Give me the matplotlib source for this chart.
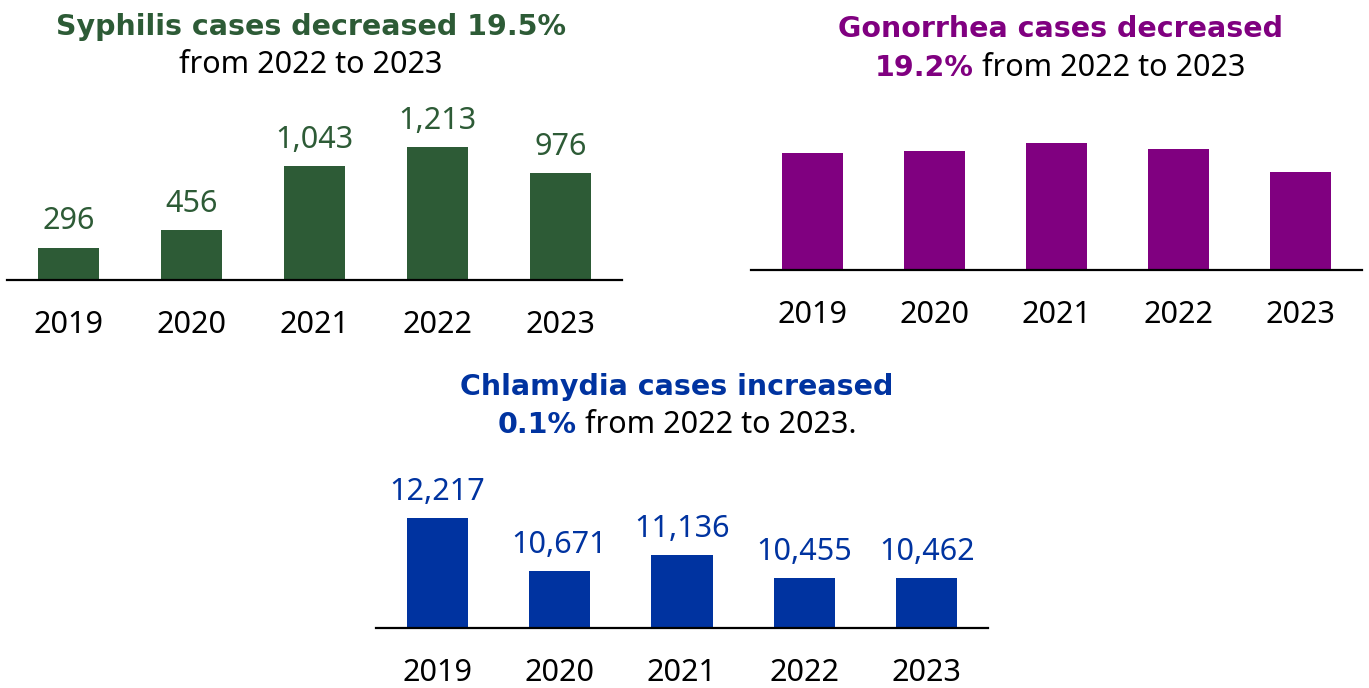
import matplotlib
matplotlib.use("Agg")
import matplotlib.pyplot as plt

plt.rcParams['font.family'] = ['Noto Sans', 'DejaVu Sans']
BOLD = ['DejaVu Sans']

years = ["2019", "2020", "2021", "2022", "2023"]

syphilis = [296, 456, 1043, 1213, 976]
gonorrhea = [2930, 2980, 3180, 3030, 2450]  # no labels in the picture
chlamydia = [12217, 10671, 11136, 10455, 10462]

green = "#2d5b36"
purple = "#800080"
blue = "#0033a0"

W, H = 1369, 688
fig = plt.figure(figsize=(W / 100, H / 100), dpi=100)


def px_axes(x0, x1, y_base, height):
    # axes from pixel coords (top-left origin)
    return fig.add_axes([x0 / W, (H - y_base) / H, (x1 - x0) / W, height / H])


def style(ax):
    for s in ["top", "left", "right"]:
        ax.spines[s].set_visible(False)
    ax.spines["bottom"].set_linewidth(1.6)
    ax.set_yticks([])
    ax.set_xticks(range(len(years)))
    ax.set_xticklabels(years, fontsize=22)
    ax.tick_params(axis="x", length=0, pad=21.5)
    ax.set_xlim(-0.5, 4.5)


def two_part(x, y, bold_txt, bold_col, rest_txt, bsize, size):
    # bold coloured piece followed by plain black piece, centred at x
    r = fig.canvas.get_renderer()
    t1 = fig.text(0, 1 - y / H, bold_txt, fontsize=bsize, fontweight="bold",
                  family=BOLD, color=bold_col, ha="left", va="center")
    t2 = fig.text(0, 1 - y / H, rest_txt, fontsize=size, color="black",
                  ha="left", va="center")
    w1 = t1.get_window_extent(r).width
    w2 = t2.get_window_extent(r).width
    left = x - (w1 + w2) / 2
    t1.set_x(left / W)
    t2.set_x((left + w1) / W)


TS = 20.5

# Syphilis
ax1 = px_axes(7, 622, 280, 180)
ax1.bar(range(5), syphilis, width=0.5, color=green)
ax1.set_ylim(0, 180 / 0.1096)
style(ax1)
for i, v in enumerate(syphilis):
    ax1.annotate(f"{v:,}", (i, v), xytext=(0, 8), textcoords="offset points",
                 ha="center", va="bottom", fontsize=22, color=green)
fig.text(311 / W, 1 - 27 / H, "Syphilis cases decreased 19.5%", fontsize=TS,
         fontweight="bold", family=BOLD, color=green, ha="center", va="center")
fig.text(311 / W, 1 - 65 / H, "from 2022 to 2023", fontsize=22, color="black",
         ha="center", va="center")

# Gonorrhea
ax2 = px_axes(751, 1362, 270, 180)
ax2.bar(range(5), gonorrhea, width=0.5, color=purple)
ax2.set_ylim(0, 180 / 0.04)
style(ax2)
fig.text(1060 / W, 1 - 29 / H, "Gonorrhea cases decreased", fontsize=TS,
         fontweight="bold", family=BOLD, color=purple, ha="center", va="center")
two_part(1060, 68, "19.2%", purple, " from 2022 to 2023", TS, 22)

# Chlamydia
ax3 = px_axes(376, 988, 628, 160)
ax3.bar(range(5), chlamydia, width=0.5, color=blue)
ax3.set_ylim(9000, 9000 + 160 * 29.17)
style(ax3)
for i, v in enumerate(chlamydia):
    ax3.annotate(f"{v:,}", (i, v), xytext=(0, 8), textcoords="offset points",
                 ha="center", va="bottom", fontsize=22, color=blue)
fig.text(677 / W, 1 - 387 / H, "Chlamydia cases increased", fontsize=TS,
         fontweight="bold", family=BOLD, color=blue, ha="center", va="center")
two_part(677, 425, "0.1%", blue, " from 2022 to 2023.", TS, 22)

fig.savefig("out.png", dpi=100)
